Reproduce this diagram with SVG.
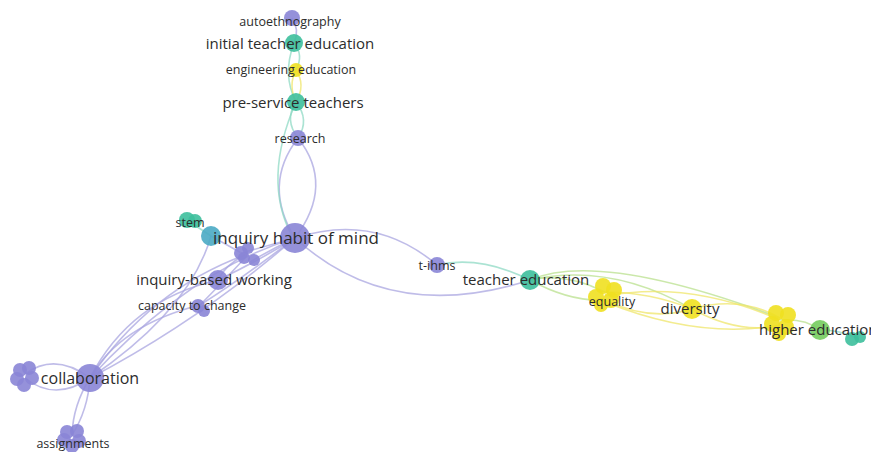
<svg xmlns="http://www.w3.org/2000/svg" width="871" height="452" viewBox="0 0 871 452">
<style>
.e{fill:none;stroke-width:1.6;stroke-opacity:0.75}
.p{stroke:#a9a5e0}
.t{stroke:#8fd9c4}
.y{stroke:#efe66a}
.g{stroke:#b9e08e}
.np{fill:#8a85d6;fill-opacity:0.9}
.nt{fill:#3dbf9c;fill-opacity:0.9}
.nb{fill:#4aaac4;fill-opacity:0.9}
.ny{fill:#efe020;fill-opacity:0.9}
.ng{fill:#74cc5e;fill-opacity:0.9}
text{font-family:"Open Sans","Noto Sans",sans-serif;fill:#2c2c2c;text-anchor:middle}
.s{font-size:12.5px}
.m{font-size:15px}
.l{font-size:15px}
.c{font-size:16px}
.xl{font-size:17px}
</style>
<rect width="871" height="452" fill="#ffffff"/>
<g id="edges">
<path class="e p" d="M295,238 Q262,185 298,138"/>
<path class="e p" d="M295,238 Q335,185 298,138"/>
<path class="e t" d="M296,102 Q262,180 292,236"/>
<path class="e t" d="M298,138 Q284,120 296,102"/>
<path class="e t" d="M298,138 Q310,120 296,102"/>
<path class="e t" d="M296,102 Q282,75 294,43"/>
<path class="e y" d="M296,102 Q306,85 296,70"/>
<path class="e y" d="M296,102 Q288,85 296,70"/>
<path class="e t" d="M296,70 Q304,55 294,43"/>
<path class="e p" d="M294,43 Q300,30 292,18"/>
<path class="e p" d="M295,238 Q375,212 437,265"/>
<path class="e p" d="M295,238 Q390,325 530,280"/>
<path class="e t" d="M437,265 Q480,255 530,280"/>
<path class="e p" d="M295,238 Q190,270 90,378"/>
<path class="e p" d="M295,238 Q200,320 90,378"/>
<path class="e p" d="M245,255 Q150,290 90,378"/>
<path class="e p" d="M218,280 Q130,300 90,378"/>
<path class="e p" d="M200,305 Q120,325 90,378"/>
<path class="e p" d="M211,236 Q190,310 90,378"/>
<path class="e p" d="M295,238 L245,252"/>
<path class="e p" d="M295,238 Q270,250 250,262"/>
<path class="e p" d="M295,238 Q260,260 218,280"/>
<path class="e p" d="M295,238 Q240,280 200,305"/>
<path class="e p" d="M211,236 L245,255"/>
<path class="e p" d="M245,255 Q225,265 218,280"/>
<path class="e p" d="M245,258 Q215,290 200,305"/>
<path class="e p" d="M90,378 Q55,352 25,374"/>
<path class="e p" d="M90,378 Q55,402 25,378"/>
<path class="e p" d="M90,378 Q73,405 72,435"/>
<path class="e p" d="M90,378 Q88,410 72,435"/>
<path class="e t" d="M211,236 L190,222"/>
<path class="e g" d="M530,280 Q565,272 605,292"/>
<path class="e g" d="M530,280 Q570,302 605,300"/>
<path class="e g" d="M530,280 Q610,262 692,309"/>
<path class="e g" d="M530,280 Q600,250 780,318"/>
<path class="e y" d="M605,292 Q650,292 692,309"/>
<path class="e y" d="M605,300 Q650,322 692,309"/>
<path class="e y" d="M605,296 Q690,280 780,320"/>
<path class="e y" d="M605,302 Q700,340 780,325"/>
<path class="e y" d="M692,309 Q740,295 780,318"/>
<path class="e y" d="M692,309 Q740,335 780,325"/>
<path class="e g" d="M780,320 Q805,318 820,330"/>
<path class="e t" d="M820,330 Q840,330 857,338"/>
</g>
<g id="n-autoethnography"><circle class="np" cx="292" cy="18" r="8"/><text class="s" x="290" y="26">autoethnography</text></g>
<g id="n-initial-teacher-education"><circle class="nt" cx="294" cy="43" r="9"/><text class="m" x="290" y="49">initial teacher education</text></g>
<g id="n-engineering-education"><circle class="ny" cx="296" cy="70" r="7"/><text class="s" x="291" y="74">engineering education</text></g>
<g id="n-pre-service-teachers"><circle class="nt" cx="296" cy="102" r="9"/><text class="m" x="293" y="108">pre-service teachers</text></g>
<g id="n-research"><circle class="np" cx="298" cy="138" r="8"/><text class="s" x="300" y="143">research</text></g>
<g id="n-stem"><circle class="nt" cx="187" cy="220" r="8"/><circle class="nt" cx="195" cy="221" r="7"/><text class="s" x="190" y="227">stem</text></g>
<g id="n-inquiry-cluster"><circle class="nb" cx="211" cy="236" r="10"/><circle class="np" cx="241" cy="253" r="7"/><circle class="np" cx="248" cy="248" r="6"/><circle class="np" cx="244" cy="258" r="6"/><circle class="np" cx="254" cy="260" r="6"/></g>
<g id="n-inquiry-habit-of-mind"><circle class="np" cx="295" cy="238" r="15"/><text class="xl" x="296" y="244">inquiry habit of mind</text></g>
<g id="n-inquiry-based-working"><circle class="np" cx="218" cy="280" r="10"/><text class="l" x="214" y="285">inquiry-based working</text></g>
<g id="n-capacity-to-change"><circle class="np" cx="198" cy="306" r="7"/><circle class="np" cx="204" cy="311" r="6"/><text class="s" x="192" y="310">capacity to change</text></g>
<g id="n-cluster-left"><circle class="np" cx="20" cy="370" r="7"/><circle class="np" cx="29" cy="368" r="7"/><circle class="np" cx="17" cy="379" r="7"/><circle class="np" cx="32" cy="378" r="7"/><circle class="np" cx="24" cy="385" r="7"/></g>
<g id="n-collaboration"><circle class="np" cx="90" cy="378" r="14"/><text class="c" x="90" y="384">collaboration</text></g>
<g id="n-assignments"><circle class="np" cx="67" cy="432" r="7"/><circle class="np" cx="77" cy="431" r="7"/><circle class="np" cx="64" cy="440" r="7"/><circle class="np" cx="79" cy="441" r="7"/><circle class="np" cx="72" cy="446" r="7"/><text class="s" x="73" y="448">assignments</text></g>
<g id="n-t-ihms"><circle class="np" cx="437" cy="265" r="8"/><text class="s" x="437" y="270">t-ihms</text></g>
<g id="n-teacher-education"><circle class="nt" cx="530" cy="280" r="10"/><text class="l" x="526" y="285">teacher education</text></g>
<g id="n-equality"><circle class="ny" cx="603" cy="286" r="8"/><circle class="ny" cx="614" cy="290" r="8"/><circle class="ny" cx="596" cy="297" r="8"/><circle class="ny" cx="611" cy="300" r="8"/><circle class="ny" cx="601" cy="305" r="7"/><text class="s" x="612" y="306">equality</text></g>
<g id="n-diversity"><circle class="ny" cx="692" cy="309" r="10"/><text class="l" x="690" y="314">diversity</text></g>
<g id="n-higher-education"><circle class="ny" cx="776" cy="313" r="8"/><circle class="ny" cx="788" cy="315" r="8"/><circle class="ny" cx="772" cy="324" r="8"/><circle class="ny" cx="786" cy="327" r="8"/><circle class="ny" cx="779" cy="334" r="7"/><circle class="ng" cx="820" cy="330" r="10"/><circle class="nt" cx="852" cy="339" r="7"/><circle class="nt" cx="860" cy="337" r="6"/><text class="l" x="759" y="335" style="text-anchor:start">higher education</text></g>
</svg>
